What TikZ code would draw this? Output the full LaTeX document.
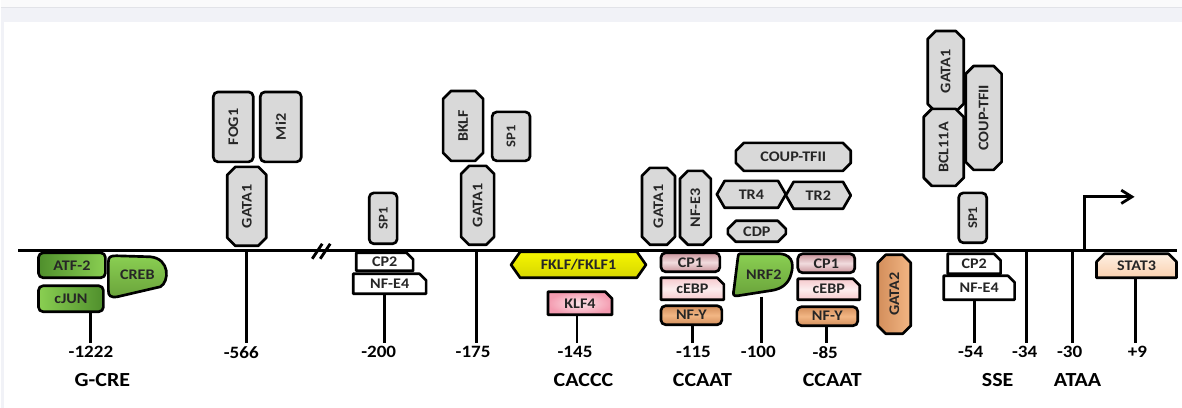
\documentclass[tikz,border=0pt]{standalone}
\usepackage{fontspec}
\setmainfont{Carlito}[FakeStretch=1.1]
\usepackage{tikz}
\usetikzlibrary{shadings}
\usetikzlibrary{positioning}
\usetikzlibrary{calc,arrows.meta}
\usetikzlibrary{shapes.misc,shapes.symbols}
\definecolor{bp-text}{HTML}{262626}
\definecolor{bp-gray}{HTML}{D9D9D9}
\definecolor{bp-frame}{HTML}{F1F2F7}
\definecolor{bp-frameline}{HTML}{E2E3E8}
\definecolor{bp-top}{HTML}{FAFAFB}
\definecolor{bp-green1}{HTML}{4F8F2C}
\definecolor{bp-green2}{HTML}{8ACF52}
\definecolor{bp-green3}{HTML}{7CBF45}
\definecolor{bp-yellow1}{HTML}{F6F600}
\definecolor{bp-yellow2}{HTML}{D6D600}
\definecolor{bp-pink}{HTML}{F49BB0}
\definecolor{bp-pinkc}{HTML}{FDE6EA}
\definecolor{bp-rose}{HTML}{C9939A}
\definecolor{bp-rose2}{HTML}{F1DCDE}
\definecolor{bp-blush}{HTML}{F6C9CD}
\definecolor{bp-blush2}{HTML}{FCEDEE}
\definecolor{bp-tan}{HTML}{D38E5B}
\definecolor{bp-tan2}{HTML}{F2B684}
\definecolor{bp-peach}{HTML}{FAD0AE}
\definecolor{bp-peach2}{HTML}{FEF0E3}
\tikzset{sz/.style 2 args={minimum width=#1*0.75pt,minimum height=#2*0.75pt}}
\tikzset{fac/.style={draw,line width=2pt,line join=round,inner sep=0pt,text=bp-text,font=\bfseries\fontsize{11}{12}\selectfont}}
\tikzset{rbox/.style={fac,rectangle,rounded corners=3.5pt}}
\tikzset{cbox/.style={fac,chamfered rectangle,chamfered rectangle xsep=3pt,chamfered rectangle ysep=3pt}}
\tikzset{nebox/.style={cbox,chamfered rectangle corners=north east,chamfered rectangle xsep=2.5pt,chamfered rectangle ysep=2.5pt}}
\tikzset{hexbox/.style={fac,signal,signal to=west and east}}

\begin{document}
\begin{tikzpicture}[x=0.75pt, y=-0.75pt]

  % Global Style Definitions
  \tikzset{
    gray/.style={fill=bp-gray},
    small/.style={font=\bfseries\fontsize{10}{11}\selectfont},
    green/.style={left color=bp-green1, right color=bp-green2},
    blob/.style={draw, line width=2pt, line join=round, top color=bp-green2, bottom color=bp-green3!85!black},
    rose/.style={top color=bp-rose, bottom color=bp-rose, middle color=bp-rose2},
    blush/.style={top color=bp-blush, bottom color=bp-blush, middle color=bp-blush2},
    tan/.style={top color=bp-tan, bottom color=bp-tan, middle color=bp-tan2},
    dna/.style={line width=2.1pt},
    tick/.style={line width=2.1pt},
    num/.style={inner sep=0pt, font=\bfseries\fontsize{13}{14}\selectfont},
    grp/.style={inner sep=0pt, font=\bfseries\fontsize{15}{16}\selectfont}
  }

  % Frame
  \fill[white] (0,0) rectangle (1182,408);
  \fill[bp-top] (0,0) rectangle (1182,8);
  \fill[bp-frame] (0,8) rectangle (1182,22);
  \fill[bp-frame] (0,22) rectangle (4,408);
  \draw[bp-frameline, line width=0.75pt] (0,8) -- (1182,8);
  \useasboundingbox (0,0) rectangle (1182,408);

  % DNA strand
  \coordinate (dnaL) at (18,251);
  \coordinate (dnaR) at (1177,251);
  \draw[dna] (dnaL) -- (dnaR);
  \draw[tick] (312,259) -- (322,244);
  \draw[tick] (320,259) -- (330,244);

  % Transcription start
  \coordinate (tssbase) at (1085,251);
  \coordinate (tss) at (1135,197);
  \draw[dna, -{Straight Barb[length=8pt,width=10pt]}] (tssbase) |- (tss);

  % G-CRE (-1222)
  \node (atf) [rbox, green, sz={67}{25}] at (71.5,265.5) {ATF-2};
  \node (cjun) [rbox, left color=bp-green2, right color=bp-green1, sz={65}{26}] at (70.5,299) {cJUN};
  \filldraw[blob] (108,262) .. controls (108,257) and (110,256) .. (116,256) -- (150,257)
    .. controls (170,259) and (169,282) .. (160,287) -- (117,297)
    .. controls (110,298) and (108,296) .. (108,291) -- cycle;
  \node (creb) [fac, draw=none, sz={58}{40}] at (137,275) {CREB};

  % -566
  \node (fog1) [rbox, gray, rotate=90, sz={70}{40}] at (233,127) {FOG1};
  \node (mi2) [rbox, gray, rotate=90, sz={70}{41}] at (280.5,127) {Mi2};
  \node (gata566) [cbox, gray, rotate=90, sz={79}{39}] at (246.5,206.5) {GATA1};

  % -200
  \node (sp200) [rbox, gray, small, rotate=90, sz={51}{28}] at (383,218.5) {SP1};
  \node (cp200) [nebox, fill=white, sz={57}{18}] at (384.5,262) {CP2};
  \node (nfe200) [nebox, fill=white, sz={73}{20}] at (389.5,284) {NF-E4};

  % -175
  \node (bklf) [cbox, gray, rotate=90, sz={70}{40}] at (463,126) {BKLF};
  \node (sp175) [rbox, gray, small, rotate=90, sz={49}{38}] at (511,136.5) {SP1};
  \node (gata175) [cbox, gray, rotate=90, sz={79}{33}] at (477.5,205.5) {GATA1};

  % CACCC (-145)
  \node (fklf) [hexbox, top color=bp-yellow1, bottom color=bp-yellow2, signal pointer angle=110, sz={135}{26}] at (578.5,265) {FKLF/FKLF1};
  \node (klf4) [nebox, inner color=bp-pinkc, outer color=bp-pink, sz={64}{23}] at (580,303.5) {KLF4};

  % CCAAT (-115)
  \node (gata115) [cbox, gray, rotate=90, sz={77}{33}] at (658.5,206.5) {GATA1};
  \node (nfe3) [cbox, gray, rotate=90, sz={74}{31}] at (695.5,208) {NF-E3};
  \node (cp1a) [rbox, rose, sz={59}{19}] at (690.5,262.5) {CP1};
  \node (cebpa) [nebox, blush, sz={63}{22}] at (692.5,289) {cEBP};
  \node (nfya) [rbox, tan, sz={61}{19}] at (691.5,315.5) {NF-Y};

  % -100
  \node (coup100) [cbox, gray, sz={115}{28}] at (793.5,157) {COUP-TFII};
  \node (tr4) [hexbox, gray, signal pointer angle=120, sz={69}{27}] at (751.5,194.5) {TR4};
  \node (tr2) [hexbox, gray, signal pointer angle=120, sz={65}{27}] at (818.5,195.5) {TR2};
  \node (cdp) [cbox, gray, sz={58}{21}] at (757,231.5) {CDP};
  \filldraw[blob] (740,254) -- (780,254) .. controls (795,255) and (794,268) .. (790,278)
    .. controls (786,287) and (778,290) .. (770,291) -- (738,296)
    .. controls (733,297) and (733,294) .. (734,290) -- (738,258)
    .. controls (738,255) and (739,254) .. (740,254) -- cycle;
  \node (nrf2) [fac, draw=none, sz={56}{41}] at (764,275) {NRF2};

  % CCAAT (-85)
  \node (cp1b) [rbox, rose, sz={57}{19}] at (826.5,263.5) {CP1};
  \node (cebpb) [nebox, blush, sz={62}{21}] at (829,289.5) {cEBP};
  \node (nfyb) [rbox, tan, sz={61}{19}] at (827.5,316.5) {NF-Y};
  \node (gata2) [cbox, left color=bp-tan, right color=bp-tan2, rotate=90, sz={79}{33}] at (894.5,294.5) {GATA2};

  % SSE (-54)
  \node (gata54) [cbox, gray, rotate=90, sz={81}{36}] at (946,71.5) {GATA1};
  \node (bcl) [cbox, gray, rotate=90, sz={77}{40}] at (944,147.5) {BCL11A};
  \node (coup54) [cbox, gray, rotate=90, sz={104}{36}] at (984,118) {COUP-TFII};
  \node (sp54) [rbox, gray, small, rotate=90, sz={50}{28}] at (973,218) {SP1};
  \node (cp54) [nebox, fill=white, sz={53}{20}] at (974.5,264) {CP2};
  \node (nfe54) [nebox, fill=white, sz={71}{24}] at (979.5,288) {NF-E4};

  % +9
  \node (stat3) [cbox, chamfered rectangle corners={north east,north west}, top color=bp-peach2, bottom color=bp-peach, sz={80}{24}] at (1137,266) {STAT3};

  % Positions
  \coordinate (b1222) at (90,343);
  \coordinate (b566) at (246,343);
  \coordinate (b200) at (384.5,343);
  \coordinate (b175) at (476,343);
  \coordinate (b145) at (577,343);
  \coordinate (b115) at (692.5,343);
  \coordinate (b100) at (762,343);
  \coordinate (b85) at (826.5,343);
  \coordinate (b54) at (975,343);
  \coordinate (b34) at (1027,343);
  \coordinate (b30) at (1073,343);
  \coordinate (b9) at (1136,343);

  \draw[tick] (cjun.south -| b1222) -- (b1222);
  \draw[tick] (dnaL -| b566) -- (b566);
  \draw[tick] (nfe200.south -| b200) -- (b200);
  \draw[tick] (dnaL -| b175) -- (b175);
  \draw[tick] (klf4.south -| b145) -- (b145);
  \draw[tick] (nfya.south -| b115) -- (b115);
  \draw[tick] (nrf2.south -| b100) -- (b100);
  \draw[tick] (nfyb.south -| b85) -- (b85);
  \draw[tick] (nfe54.south -| b54) -- (b54);
  \draw[tick] (dnaL -| b34) -- (b34);
  \draw[tick] (dnaL -| b30) -- (b30);
  \draw[tick] (stat3.south -| b9) -- (b9);

  \node (n1222) [num] at (90.5,352.5) {-1222};
  \node (n566) [num] at (241,352.5) {-566};
  \node (n200) [num] at (378.5,352.5) {-200};
  \node (n175) [num] at (473,352.5) {-175};
  \node (n145) [num] at (575,352.5) {-145};
  \node (n115) [num] at (693.5,352.5) {-115};
  \node (n100) [num] at (758.5,352.5) {-100};
  \node (n85) [num] at (825.5,352.5) {-85};
  \node (n54) [num] at (971,352.5) {-54};
  \node (n34) [num] at (1025,352.5) {-34};
  \node (n30) [num] at (1070,352.5) {-30};
  \node (n9) [num] at (1138,352.5) {+9};

  % Elements
  \node (gcre) [grp] at (102,380) {G-CRE};
  \node (caccc) [grp] at (583.5,380) {CACCC};
  \node (ccaat1) [grp] at (702.5,380) {CCAAT};
  \node (ccaat2) [grp] at (832.5,380) {CCAAT};
  \node (sse) [grp] at (998,380) {SSE};
  \node (ataa) [grp] at (1078,380) {ATAA};

\end{tikzpicture}
\end{document}
